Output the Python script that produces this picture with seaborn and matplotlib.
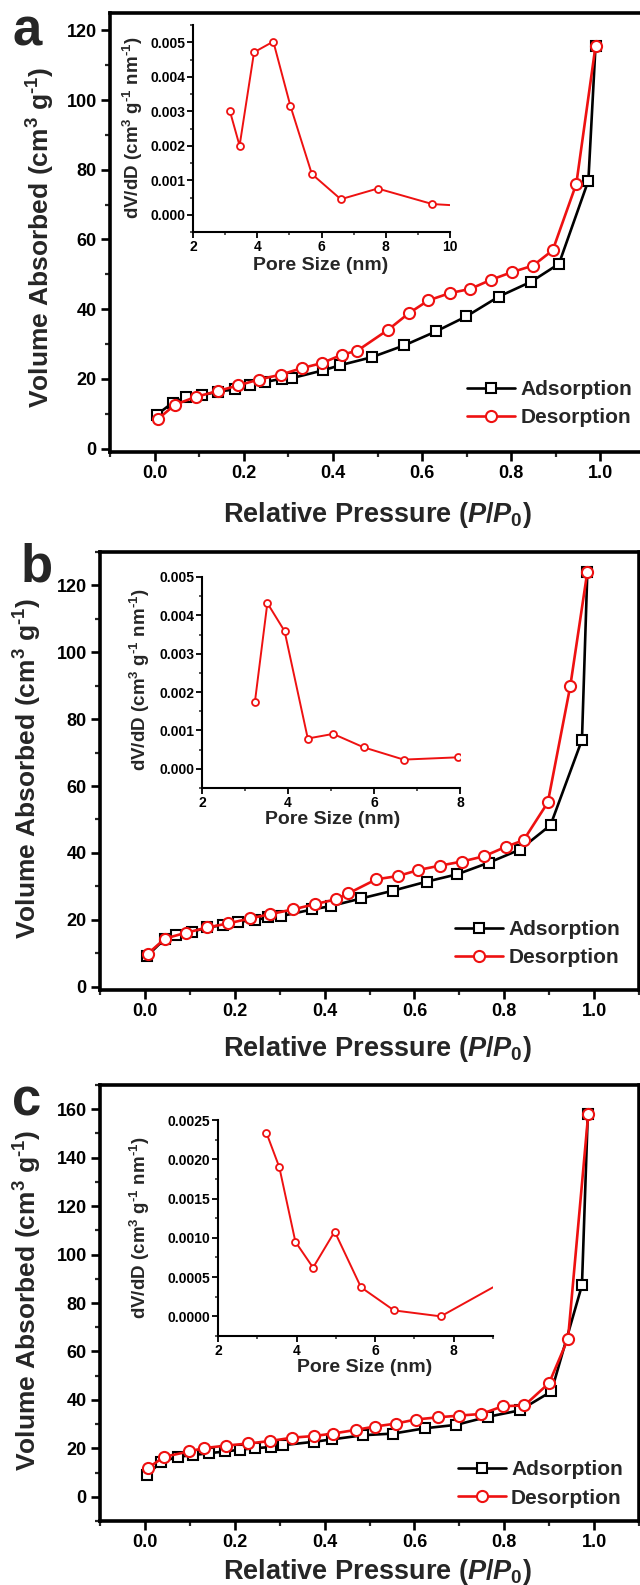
import matplotlib
matplotlib.use("Agg")
import matplotlib.pyplot as plt
from matplotlib.ticker import MultipleLocator, FormatStrFormatter
import seaborn as sns

# ---------------- data ----------------
# panel a
a_ads_x = [0.005, 0.041, 0.071, 0.106, 0.142, 0.18, 0.213, 0.248, 0.285, 0.308, 0.377, 0.416,
           0.487, 0.56, 0.631, 0.699, 0.772, 0.845, 0.907, 0.973, 0.989]
a_ads_y = [9.7, 13.2, 14.7, 15.3, 16.3, 17.0, 18.1, 19.1, 20.0, 20.2, 22.4, 23.9,
           26.2, 29.6, 33.6, 37.9, 43.6, 47.9, 53.0, 76.9, 115.5]
a_des_x = [0.007, 0.046, 0.092, 0.142, 0.187, 0.234, 0.283, 0.331, 0.375, 0.42, 0.455, 0.524,
           0.57, 0.614, 0.662, 0.708, 0.754, 0.801, 0.849, 0.893, 0.946, 0.989]
a_des_y = [8.4, 12.6, 14.8, 16.5, 18.1, 19.8, 21.2, 23.1, 24.5, 26.9, 28.1, 34.1,
           38.8, 42.5, 44.6, 45.8, 48.4, 50.6, 52.5, 56.9, 76.0, 115.5]
a_pore_x = [3.15, 3.45, 3.9, 4.5, 5.03, 5.7, 6.6, 7.75, 9.45, 10.0]
a_pore_y = [0.0030, 0.0020, 0.00471, 0.00502, 0.00316, 0.00118, 0.00045, 0.00076, 0.00031, 0.00028]

# panel b
b_ads_x = [0.005, 0.045, 0.07, 0.105, 0.139, 0.173, 0.207, 0.244, 0.275, 0.303, 0.373, 0.414,
           0.482, 0.552, 0.627, 0.695, 0.766, 0.835, 0.903, 0.973, 0.985]
b_ads_y = [9.2, 14.4, 15.4, 16.4, 17.7, 18.4, 19.4, 19.9, 20.7, 21.1, 23.1, 24.1,
           26.4, 28.7, 31.4, 33.6, 37.1, 41.0, 48.3, 73.8, 124.1]
b_des_x = [0.006, 0.045, 0.091, 0.139, 0.185, 0.234, 0.279, 0.33, 0.379, 0.425, 0.453, 0.515,
           0.564, 0.609, 0.657, 0.705, 0.755, 0.803, 0.843, 0.897, 0.947, 0.985]
b_des_y = [9.8, 14.4, 16.1, 17.7, 18.9, 20.4, 21.7, 23.1, 24.7, 26.1, 27.9, 32.1,
           33.1, 34.9, 36.2, 37.4, 39.0, 41.8, 43.8, 55.1, 89.9, 124.1]
b_pore_x = [3.23, 3.52, 3.92, 4.46, 5.05, 5.76, 6.69, 7.96]
b_pore_y = [0.00174, 0.00432, 0.00359, 0.00079, 0.00091, 0.00056, 0.00024, 0.00030]

# panel c
c_ads_x = [0.004, 0.036, 0.073, 0.107, 0.143, 0.178, 0.211, 0.246, 0.28, 0.307, 0.376, 0.417,
           0.485, 0.553, 0.624, 0.693, 0.763, 0.835, 0.905, 0.973, 0.986]
c_ads_y = [8.9, 14.4, 16.5, 17.2, 18.0, 18.7, 19.4, 20.1, 20.5, 21.3, 22.7, 23.7,
           25.4, 26.1, 28.3, 29.7, 33.0, 35.7, 43.5, 87.3, 158.0]
c_des_x = [0.006, 0.043, 0.098, 0.132, 0.18, 0.23, 0.278, 0.328, 0.377, 0.419, 0.469, 0.512,
           0.558, 0.603, 0.652, 0.699, 0.749, 0.797, 0.845, 0.9, 0.942, 0.987]
c_des_y = [11.8, 16.5, 18.7, 20.1, 21.1, 22.0, 23.0, 24.4, 25.1, 26.1, 27.6, 29.0,
           30.2, 31.9, 32.8, 33.5, 34.2, 37.4, 37.7, 47.0, 65.3, 158.0]
c_pore_x = [3.23, 3.56, 3.97, 4.42, 4.97, 5.64, 6.48, 7.67, 9.0]
c_pore_y = [0.00234, 0.0019, 0.00095, 0.00062, 0.00108, 0.00037, 0.000076, 0.0, 0.00037]

panel_letters = ["a", "b", "c"]
series_labels = ["Adsorption", "Desorption"]
main_xlabel = r"Relative Pressure ($\mathit{P/P_0}$)"
main_ylabel = r"Volume Absorbed (cm$^{3}$ g$^{\text{-}1}$)"
inset_xlabel = "Pore Size (nm)"
inset_ylabel = r"dV/dD (cm$^{3}$ g$^{\text{-}1}$ nm$^{\text{-}1}$)"

# ---------------- style ----------------
sns.set_theme(style="ticks")
plt.rcParams["font.family"] = ["Liberation Sans", "DejaVu Sans"]
plt.rcParams.update({
    "font.weight": "bold",
    "axes.labelweight": "bold",
    "mathtext.fontset": "custom",
    "mathtext.rm": "Liberation Sans:bold",
    "mathtext.bf": "Liberation Sans:bold",
    "mathtext.it": "Liberation Sans:italic:bold",
    "mathtext.default": "rm",
})

W, H = 640, 1585
fig = plt.figure(figsize=(W / 100, H / 100), dpi=100)
fig.patch.set_facecolor("white")


def add_ax(left, top, right, bottom):
    return fig.add_axes([left / W, 1 - bottom / H, (right - left) / W, (bottom - top) / H])


RED = "#ee1111"

panels = [
    dict(letter=panel_letters[0], box=(110, 13, 645, 452), ylim=(-1, 125), ymaj=20,
         ads=(a_ads_x, a_ads_y), des=(a_des_x, a_des_y),
         pore=(a_pore_x, a_pore_y), pore_last_marker=False,
         ibox=(193, 25, 450, 232), ixlim=(2, 10), iylim=(-0.0005, 0.0055),
         iymaj=0.001, iymin=0.0005, ifmt="%.3f",
         letter_pos=(13, 45), ylab=(41, 237), xlab=(377, 515),
         iylab=(133, 128), ixlab=(321, 265), leg=(467, 403.5)),
    dict(letter=panel_letters[1], box=(100, 552, 639, 990), ylim=(-1, 130), ymaj=20,
         ads=(b_ads_x, b_ads_y), des=(b_des_x, b_des_y),
         pore=(b_pore_x, b_pore_y), pore_last_marker=True,
         ibox=(202, 577, 460, 788), ixlim=(2, 8), iylim=(-0.0005, 0.005),
         iymaj=0.001, iymin=0.0005, ifmt="%.3f",
         letter_pos=(21, 582), ylab=(28, 768), xlab=(377, 1049),
         iylab=(140, 680), ixlab=(333, 820), leg=(455, 943.5)),
    dict(letter=panel_letters[2], box=(100, 1085, 639, 1521), ylim=(-10, 170), ymaj=20,
         ads=(c_ads_x, c_ads_y), des=(c_des_x, c_des_y),
         pore=(c_pore_x, c_pore_y), pore_last_marker=False,
         ibox=(218, 1120, 493, 1336), ixlim=(2, 9), iylim=(-0.00025, 0.0025),
         iymaj=0.0005, iymin=0.00025, ifmt="%.4f",
         letter_pos=(12, 1115), ylab=(28, 1300), xlab=(377, 1572),
         iylab=(140, 1228), ixlab=(365, 1368), leg=(458, 1484)),
]

for p in panels:
    ax = add_ax(*p["box"])
    ax.set_facecolor("white")
    sns.lineplot(x=p["ads"][0], y=p["ads"][1], ax=ax, color="black", lw=1.9,
                 marker="s", markersize=7.5, markerfacecolor="white",
                 markeredgecolor="black", markeredgewidth=1.5,
                 label=series_labels[0], sort=False, estimator=None, zorder=3)
    sns.lineplot(x=p["des"][0], y=p["des"][1], ax=ax, color=RED, lw=1.9,
                 marker="o", markersize=8, markerfacecolor="white",
                 markeredgecolor=RED, markeredgewidth=1.5,
                 label=series_labels[1], sort=False, estimator=None, zorder=4)
    ax.set_xlim(-0.1, 1.1)
    ax.set_ylim(*p["ylim"])
    ax.xaxis.set_minor_locator(MultipleLocator(0.1))
    ax.xaxis.set_major_formatter(FormatStrFormatter("%.1f"))
    ax.yaxis.set_minor_locator(MultipleLocator(10))
    ax.yaxis.set_major_formatter(FormatStrFormatter("%d"))
    ax.set_xticks([0.0, 0.2, 0.4, 0.6, 0.8, 1.0])
    ax.set_yticks(list(range(0, int(p["ylim"][1]) + 1, p["ymaj"])))
    ax.set_xlim(-0.1, 1.1)
    ax.set_ylim(*p["ylim"])
    for s in ax.spines.values():
        s.set_linewidth(2.6)
        s.set_color("black")
    ax.tick_params(which="major", direction="out", length=6.5, width=1.9, pad=3,
                   labelsize=13, colors="black", top=False, right=False)
    ax.tick_params(which="minor", direction="out", length=3.5, width=1.6,
                   top=False, right=False)
    for lab in ax.get_xticklabels() + ax.get_yticklabels():
        lab.set_fontweight("bold")
    ax.set_xlabel(main_xlabel, fontsize=19.5, fontweight="bold", va="center")
    ax.xaxis.set_label_coords(p["xlab"][0] / W, 1 - p["xlab"][1] / H, transform=fig.transFigure)
    ax.set_ylabel(main_ylabel, fontsize=19, fontweight="bold", va="center")
    ax.yaxis.set_label_coords(p["ylab"][0] / W, 1 - p["ylab"][1] / H, transform=fig.transFigure)

    leg = ax.legend(loc="center left", bbox_to_anchor=(p["leg"][0] / W, 1 - p["leg"][1] / H),
                    bbox_transform=fig.transFigure, frameon=False, fontsize=15,
                    handlelength=2.3, handletextpad=0.25, labelspacing=0.45,
                    borderpad=0, borderaxespad=0)
    for t in leg.get_texts():
        t.set_fontweight("bold")

    fig.text(p["letter_pos"][0] / W, 1 - p["letter_pos"][1] / H, p["letter"],
             fontsize=38, fontweight="bold", ha="left", va="baseline")

    # inset
    ia = add_ax(*p["ibox"])
    ia.set_facecolor("none")
    px, py = p["pore"]
    n = len(px)
    me = list(range(n)) if p["pore_last_marker"] else list(range(n - 1))
    sns.lineplot(x=px, y=py, ax=ia, color=RED, lw=1.4, marker="o", markersize=5,
                 markerfacecolor="white", markeredgecolor=RED, markeredgewidth=1.3,
                 markevery=me, sort=False, estimator=None)
    ia.xaxis.set_major_locator(MultipleLocator(2))
    ia.xaxis.set_minor_locator(MultipleLocator(1))
    ia.xaxis.set_major_formatter(FormatStrFormatter("%d"))
    ia.yaxis.set_minor_locator(MultipleLocator(p["iymin"]))
    ia.yaxis.set_major_formatter(FormatStrFormatter(p["ifmt"]))
    ia.set_yticks([t * p["iymaj"] for t in range(0, 6)])
    ia.set_xlim(*p["ixlim"])
    ia.set_ylim(*p["iylim"])
    for side in ["top", "right"]:
        ia.spines[side].set_visible(False)
    for side in ["left", "bottom"]:
        ia.spines[side].set_linewidth(1.5)
        ia.spines[side].set_color("black")
    ia.tick_params(which="major", direction="out", length=4, width=1.3, pad=1.5,
                   labelsize=10, colors="black")
    ia.tick_params(which="minor", direction="out", length=2.3, width=1.1)
    for lab in ia.get_xticklabels() + ia.get_yticklabels():
        lab.set_fontweight("bold")
    ia.set_xlabel(inset_xlabel, fontsize=14, fontweight="bold", va="center")
    ia.xaxis.set_label_coords(p["ixlab"][0] / W, 1 - p["ixlab"][1] / H, transform=fig.transFigure)
    ia.set_ylabel(inset_ylabel, fontsize=13.5, fontweight="bold", va="center")
    ia.yaxis.set_label_coords(p["iylab"][0] / W, 1 - p["iylab"][1] / H, transform=fig.transFigure)

fig.savefig("out.png", dpi=100, facecolor="white")
